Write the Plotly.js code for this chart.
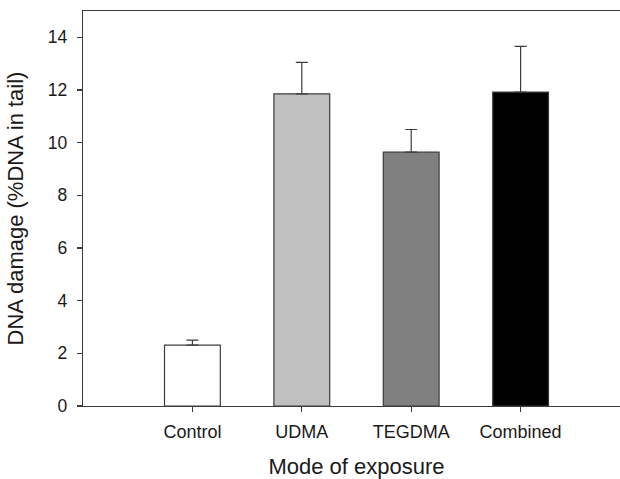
<!DOCTYPE html>
<html>
<head>
<meta charset="utf-8">
<script src="https://cdn.plot.ly/plotly-3.0.1.min.js"></script>
<style>html,body{margin:0;padding:0;background:#fff;overflow:hidden;width:620px;height:479px;}#chart{width:630px;height:479px;}</style>
</head>
<body>
<div id="chart"></div>
<script>
const categories = ["Control", "UDMA", "TEGDMA", "Combined"];
const values = [2.31, 11.85, 9.64, 11.92];
const errors = [0.19, 1.2, 0.86, 1.74];
const barColors = ["#ffffff", "#c0c0c0", "#808080", "#000000"];
const yTicks = [0, 2, 4, 6, 8, 10, 12, 14];

const trace = {
  type: "bar",
  x: categories.map((c, i) => i),
  y: values,
  width: 0.51,
  marker: {color: barColors, line: {color: "#3c3c3c", width: 1.2}},
  error_y: {type: "data", array: errors, arrayminus: categories.map(() => 0), symmetric: false,
            color: "#3c3c3c", thickness: 1.2, width: 6},
  hoverinfo: "none"
};

const layout = {
  width: 630, height: 479,
  margin: {l: 83, r: 0, t: 11, b: 73},
  paper_bgcolor: "#fff", plot_bgcolor: "#fff",
  font: {family: "Liberation Sans, Arial, sans-serif", color: "#1a1a1a", size: 17},
  showlegend: false,
  xaxis: {
    range: [-1, 4],
    tickmode: "array", tickvals: categories.map((c, i) => i), ticktext: categories,
    showline: true, linecolor: "#3c3c3c", linewidth: 1.2, mirror: true,
    ticks: "outside", ticklen: 5, tickcolor: "#3c3c3c", tickwidth: 1.2,
    showgrid: false, zeroline: false,
    tickfont: {size: 18},
    ticklabelstandoff: 4,
    title: {text: "Mode of exposure", font: {size: 22}, standoff: 20}
  },
  yaxis: {
    range: [0, 15],
    tickmode: "array", tickvals: yTicks, ticktext: yTicks.map(String),
    showline: true, linecolor: "#3c3c3c", linewidth: 1.2, mirror: false,
    ticks: "outside", ticklen: 5, tickcolor: "#3c3c3c", tickwidth: 1.2,
    showgrid: false, zeroline: false,
    tickfont: {size: 17.5},
    ticklabelstandoff: 6,
    title: {text: "DNA damage (%DNA in tail)", font: {size: 22}, standoff: 18}
  }
};

Plotly.newPlot("chart", [trace], layout, {staticPlot: true, displayModeBar: false});
</script>
</body>
</html>
